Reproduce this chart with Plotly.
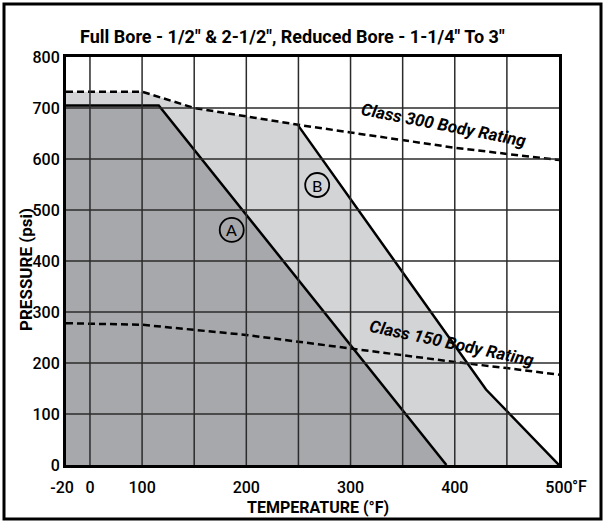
import plotly.graph_objects as go

# ---- ratings data: temperature in °F, pressure in psi ----
temp_ticks = [-20, 0, 100, 200, 300, 400, 500]
temp_tick_text = ["-20\u00a0\u00a0", "0", "100", "200", "300", "400", "500"]
grid_temps = [0, 100, 150, 200, 250, 300, 350, 400, 450]
pressure_ticks = [0, 100, 200, 300, 400, 500, 600, 700, 800]

seat_a_temp = [-20, 116, 392]
seat_a_psi = [705, 705, 0]

seat_b_temp = [250, 430, 500]
seat_b_psi = [665, 148, 0]

class300_temp = [-20, 100, 150, 200, 250, 300, 350, 400, 450, 500]
class300_psi = [732, 732, 700, 683, 667, 652, 637, 622, 610, 598]

class150_temp = [-20, 100, 200, 300, 400, 450, 500]
class150_psi = [278, 275, 255, 228, 202, 190, 177]


# The temperature axis is compressed below 100 °F (one grid cell for 0-100).
def axis_pos(t):
    if t >= 100:
        return t
    if t >= 0:
        return 50 + t / 2
    return 50 + t * 23 / 20


def xs(temps):
    return [axis_pos(t) for t in temps]


DARK = "#a7a8ab"
LIGHT = "#d3d4d6"
FONT = "Roboto, Liberation Sans, sans-serif"

fig = go.Figure()

# Seat B region: under Class 300 up to the B knee, then the B seat line
b_idx = class300_temp.index(seat_b_temp[0])
b_poly_t = class300_temp[: b_idx + 1] + seat_b_temp[1:] + [class300_temp[0]]
b_poly_p = class300_psi[: b_idx + 1] + seat_b_psi[1:] + [0]
fig.add_trace(go.Scatter(x=xs(b_poly_t), y=b_poly_p, fill="toself", fillcolor=LIGHT,
                         mode="none", hoverinfo="skip"))

# Seat A region
a_poly_t = seat_a_temp + [seat_a_temp[0]]
a_poly_p = seat_a_psi + [0]
fig.add_trace(go.Scatter(x=xs(a_poly_t), y=a_poly_p, fill="toself", fillcolor=DARK,
                         mode="none", hoverinfo="skip"))

# Seat outlines
fig.add_trace(go.Scatter(x=xs(seat_a_temp), y=seat_a_psi, mode="lines",
                         line=dict(color="black", width=2.5), hoverinfo="skip"))
fig.add_trace(go.Scatter(x=xs(seat_b_temp), y=seat_b_psi, mode="lines",
                         line=dict(color="black", width=2.5), hoverinfo="skip"))

# Body ratings
for t, p in ((class300_temp, class300_psi), (class150_temp, class150_psi)):
    fig.add_trace(go.Scatter(x=xs(t), y=p, mode="lines",
                             line=dict(color="black", width=2.5, dash="7px,4px"),
                             hoverinfo="skip"))

shapes = []
# grid drawn over the filled regions
for t in grid_temps:
    shapes.append(dict(type="line", xref="x", yref="y", x0=axis_pos(t), x1=axis_pos(t),
                       y0=0, y1=800, layer="above", line=dict(color="#2b2b2b", width=1.5)))
for p in pressure_ticks[1:-1]:
    shapes.append(dict(type="line", xref="x", yref="y", x0=axis_pos(-20), x1=axis_pos(500),
                       y0=p, y1=p, layer="above", line=dict(color="#2b2b2b", width=1.5)))

# seat labels in circles
seat_labels = [("A", 186, 461), ("B", 268, 549)]
annotations = []
for name, t, p in seat_labels:
    shapes.append(dict(type="circle", xref="x", yref="y", xsizemode="pixel", ysizemode="pixel",
                       xanchor=axis_pos(t), yanchor=p, x0=-12, x1=12, y0=-12, y1=12,
                       layer="above", line=dict(color="black", width=1.8), fillcolor="rgba(0,0,0,0)"))
    annotations.append(dict(x=axis_pos(t), y=p, xref="x", yref="y", text=name, showarrow=False,
                            xanchor="center", yanchor="middle",
                            font=dict(family="Lato, sans-serif", size=16, color="black")))

annotations += [
    dict(x=axis_pos(390), y=667, xref="x", yref="y", text="<b><i>Class 300 Body Rating</i></b>",
         showarrow=False, textangle=11, xanchor="center", yanchor="middle",
         font=dict(family=FONT, size=17, color="black")),
    dict(x=axis_pos(397), y=239, xref="x", yref="y", text="<b><i>Class 150 Body Rating</i></b>",
         showarrow=False, textangle=12, xanchor="center", yanchor="middle",
         font=dict(family=FONT, size=17, color="black")),
]

# page geometry in pixels
W, H = 605, 523
L, R, T, B = 66, 559, 57, 465
pw, ph = R - L, B - T


def px_x(px):
    return (px - L) / pw


def px_y(py):
    return (B - py) / ph


annotations += [
    dict(x=px_x(78), y=px_y(37), xref="paper", yref="paper", xanchor="left", yanchor="middle",
         text="<b>Full Bore - 1/2\" &amp; 2-1/2\", Reduced Bore - 1-1/4\" To 3\"</b>",
         showarrow=False, font=dict(family=FONT, size=18, color="black")),
    dict(x=px_x(26), y=px_y(270), xref="paper", yref="paper", text="<b>PRESSURE (psi)</b>",
         xanchor="center", yanchor="middle",
         textangle=-90, showarrow=False, font=dict(family=FONT, size=17, color="black")),
    dict(x=px_x(318), y=px_y(507), xref="paper", yref="paper", text="<b>TEMPERATURE (°F)</b>",
         xanchor="center", yanchor="middle",
         showarrow=False, font=dict(family=FONT, size=16, color="black")),
    dict(x=px_x(570), y=px_y(486), xref="paper", yref="paper", text="°F", xanchor="left",
         yanchor="middle", showarrow=False, font=dict(family=FONT, size=16, color="black", weight=500)),
]

# outer frame
shapes.append(dict(type="rect", xref="paper", yref="paper", x0=px_x(4), x1=px_x(601),
                   y0=px_y(519), y1=px_y(4), line=dict(color="black", width=3), layer="above"))

tick_font = dict(family=FONT, size=16, color="black", weight=500)
fig.update_layout(
    width=W, height=H,
    margin=dict(l=L, r=W - R, t=T, b=H - B),
    paper_bgcolor="white", plot_bgcolor="white",
    showlegend=False,
    shapes=shapes, annotations=annotations,
    xaxis=dict(range=[axis_pos(-20), axis_pos(500)], tickvals=xs(temp_ticks), ticktext=temp_tick_text,
               tickangle=0, showgrid=False, zeroline=False, showline=True, mirror=True,
               linecolor="black", linewidth=3, ticks="", layer="above traces", tickfont=tick_font,
               ticklabelstandoff=6),
    yaxis=dict(range=[0, 800], tickvals=pressure_ticks, showgrid=False, zeroline=False,
               showline=True, mirror=True, linecolor="black", linewidth=3, ticks="",
               layer="above traces", tickfont=tick_font),
)

fig.write_html("out.html")
